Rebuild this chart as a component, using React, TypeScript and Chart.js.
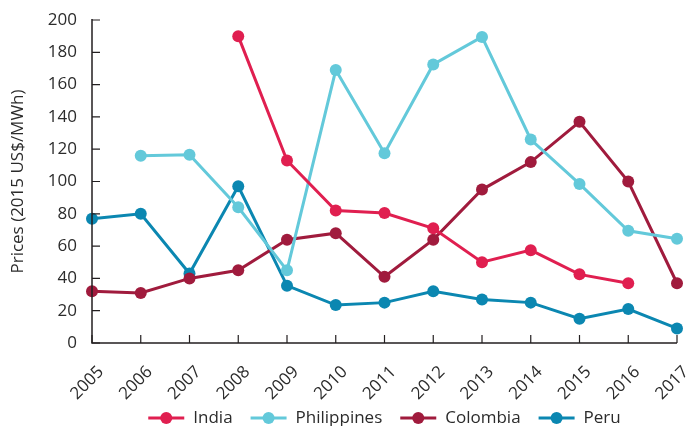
import React, { useEffect, useRef } from "react";
import { Chart, registerables } from "chart.js";

Chart.register(...registerables);

const years = ["2005","2006","2007","2008","2009","2010","2011","2012","2013","2014","2015","2016","2017"];
const india = [null, null, null, 190, 113, 82, 80.5, 71, 50, 57.5, 42.5, 37, null];
const philippines = [null, 116, 116.5, 84, 45, 169, 117.5, 172.5, 189.5, 126, 98.5, 69.5, 64.5];
const colombia = [32, 31, 40, 45, 64, 68, 41, 64, 95, 112, 137, 100, 37];
const peru = [77, 80, 43, 97, 35.5, 23.5, 25, 32, 27, 25, 15, 21, 9];
const yTicks = [0, 20, 40, 60, 80, 100, 120, 140, 160, 180, 200];

const colors = {
  india: "#e01f50",
  philippines: "#63c9da",
  colombia: "#a01b3d",
  peru: "#0b87b1",
};

const FONT = "'Open Sans', sans-serif";
const TEXT = "#2b2b2b";

const axesAndTicks = {
  id: "axesAndTicks",
  afterDatasetsDraw(chart: any) {
    const ctx = chart.ctx;
    const x = chart.scales.x;
    const y = chart.scales.y;
    const area = chart.chartArea;
    ctx.save();
    ctx.strokeStyle = "#231f20";
    ctx.lineWidth = 1.5;
    ctx.beginPath();
    ctx.moveTo(area.left, area.top - 1);
    ctx.lineTo(area.left, area.bottom);
    ctx.lineTo(area.right, area.bottom);
    ctx.stroke();
    ctx.lineWidth = 1.2;
    ctx.beginPath();
    yTicks.forEach((v) => {
      const py = y.getPixelForValue(v);
      ctx.moveTo(area.left, py);
      ctx.lineTo(area.left + 8, py);
    });
    years.forEach((_, i) => {
      const px = x.getPixelForValue(i);
      ctx.moveTo(px, area.bottom);
      ctx.lineTo(px, area.bottom - 8);
    });
    ctx.stroke();
    ctx.restore();
  },
};

const lineLegend = {
  id: "lineLegend",
  afterDraw(chart: any) {
    const ctx = chart.ctx;
    const area = chart.chartArea;
    const ds = chart.data.datasets;
    const marker = 36;
    const gap = 9;
    const spacing = 18;
    ctx.save();
    ctx.font = `17px ${FONT}`;
    const widths = ds.map((d: any) => marker + gap + ctx.measureText(d.label).width);
    const total = widths.reduce((a: number, b: number) => a + b, 0) + spacing * (ds.length - 1);
    let cx = (area.left + area.right) / 2 - total / 2;
    const cy = 418;
    ds.forEach((d: any, i: number) => {
      ctx.strokeStyle = d.borderColor;
      ctx.fillStyle = d.borderColor;
      ctx.lineWidth = 3;
      ctx.beginPath();
      ctx.moveTo(cx, cy);
      ctx.lineTo(cx + marker, cy);
      ctx.stroke();
      ctx.beginPath();
      ctx.arc(cx + marker / 2, cy, 6, 0, Math.PI * 2);
      ctx.fill();
      ctx.fillStyle = TEXT;
      ctx.textBaseline = "middle";
      ctx.textAlign = "left";
      ctx.fillText(d.label, cx + marker + gap, cy);
      cx += widths[i] + spacing;
    });
    ctx.restore();
  },
};

export default function App() {
  const ref = useRef<HTMLCanvasElement | null>(null);
  useEffect(() => {
    const mk = (label: string, data: any[], color: string) => ({
      label,
      data,
      borderColor: color,
      backgroundColor: color,
      pointBackgroundColor: color,
      pointBorderColor: color,
      borderWidth: 3,
      pointRadius: 6,
      pointHoverRadius: 6,
      pointBorderWidth: 0,
      tension: 0,
      spanGaps: false,
    });
    const chart = new Chart(ref.current!, {
      type: "line",
      data: {
        labels: years,
        datasets: [
          mk("India", india, colors.india),
          mk("Philippines", philippines, colors.philippines),
          mk("Colombia", colombia, colors.colombia),
          mk("Peru", peru, colors.peru),
        ] as any,
      },
      options: {
        animation: false,
        responsive: false,
        maintainAspectRatio: false,
        clip: false as any,
        layout: { padding: { top: 20, right: 9, left: 0, bottom: 26 } },
        plugins: {
          tooltip: { enabled: false },
          legend: { display: false },
        },
        scales: {
          x: {
            offset: false,
            grid: { display: false, drawTicks: false },
            border: { display: false },
            afterFit(scale: any) {
              scale.height = 426 - 26 - 343;
              scale.paddingLeft = 0;
              scale.paddingRight = 0;
            },
            ticks: {
              minRotation: 45,
              maxRotation: 45,
              autoSkip: false,
              padding: 19,
              labelOffset: 9,
              font: { family: FONT, size: 17 },
              color: TEXT,
            },
          },
          y: {
            min: 0,
            max: 200,
            afterBuildTicks(scale: any) {
              scale.ticks = yTicks.map((v) => ({ value: v }));
            },
            afterFit(scale: any) {
              scale.width = 92;
              scale.paddingTop = 0;
              scale.paddingBottom = 0;
            },
            grid: { display: false, drawTicks: false },
            border: { display: false },
            ticks: {
              padding: 15,
              font: { family: FONT, size: 17 },
              color: TEXT,
            },
            title: {
              display: true,
              text: "Prices (2015 US$/MWh)",
              font: { family: FONT, size: 17 },
              color: TEXT,
              padding: { top: 8, bottom: 4 },
            },
          },
        },
      },
      plugins: [axesAndTicks, lineLegend],
    });
    return () => chart.destroy();
  }, []);
  return (
    <div style={{ position: "fixed", left: 0, top: 0, width: 686, height: 426, background: "#fff" }}>
      <canvas ref={ref} width={686} height={426} style={{ width: 686, height: 426 }} />
    </div>
  );
}
